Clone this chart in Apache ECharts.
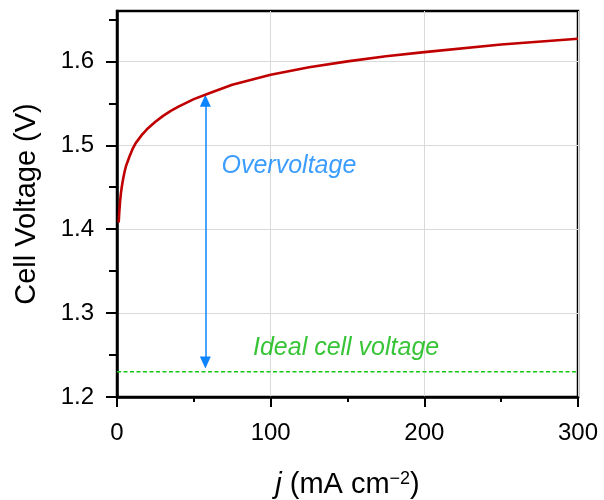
<!DOCTYPE html>
<html>
<head>
<meta charset="utf-8">
<script src="https://cdn.jsdelivr.net/npm/echarts@6/dist/echarts.min.js"></script>
<style>html,body{margin:0;padding:0;background:#fff}#c{width:604px;height:500px}</style>
</head>
<body>
<div id="c"></div>
<script>
// Polarization curve
const jValues = [1.1, 1.5, 2, 2.5, 3, 4, 5, 6, 7, 8, 10, 12, 14, 16, 18, 20, 25, 30, 35, 40, 50, 60, 75, 100, 125, 150, 175, 200, 250, 300];
const vValues = [1.408, 1.421, 1.433, 1.442, 1.449, 1.460, 1.469, 1.476, 1.481, 1.486, 1.495, 1.502, 1.507, 1.512, 1.516, 1.520, 1.528, 1.535, 1.541, 1.546, 1.555, 1.562, 1.572, 1.584, 1.593, 1.600, 1.606, 1.611, 1.620, 1.627];
// Ideal cell voltage line
const idealJ = [0, 300];
const idealV = [1.23, 1.23];
// Overvoltage arrow (j, from V, to V)
const arrowJ = 57.5;
const arrowV = [1.241, 1.553];
// Annotations
const annotationText = ['Overvoltage', 'Ideal cell voltage'];
const annotationPos = [[68, 1.475], [88.5, 1.258]];
// Ticks
const yMajorTicks = [1.2, 1.3, 1.4, 1.5, 1.6];
const yMinorTicks = [1.25, 1.35, 1.45, 1.55, 1.65];

const FONT = 'Liberation Sans, Arial, sans-serif';
const BLUE = '#0a84ff';
const GREEN = '#05b505';

const chart = echarts.init(document.getElementById('c'), null, {renderer: 'canvas'});
chart.setOption({
  animation: false,
  backgroundColor: '#fff',
  grid: {left: 117, right: 26, top: 11, bottom: 103, show: true, borderColor: '#000', borderWidth: 2.5,
    containLabel: false, outerBoundsMode: 'none'},
  xAxis: {
    type: 'value', min: 0, max: 300, interval: 100,
    name: '{i|j} (mA cm{s|−2})', nameLocation: 'middle', nameGap: 73,
    nameTextStyle: {fontFamily: FONT, fontSize: 29, color: '#000',
      rich: {i: {fontFamily: FONT, fontSize: 29, fontStyle: 'italic', color: '#000'},
             s: {fontFamily: FONT, fontSize: 18, color: '#000', verticalAlign: 'top', padding: [0, 0, 10, 0]}}},
    axisLine: {show: true, lineStyle: {color: '#000', width: 2.5}},
    axisTick: {show: true, length: 10, lineStyle: {color: '#000', width: 2}},
    minorTick: {show: true, splitNumber: 2, length: 5, lineStyle: {color: '#000', width: 2}},
    axisLabel: {fontFamily: FONT, fontSize: 24, color: '#000', margin: 24},
    splitLine: {show: true, lineStyle: {color: '#d9d9d9', width: 1}}
  },
  yAxis: [{
    type: 'value', min: 1.2, max: 1.66, interval: 0.1,
    name: 'Cell Voltage (V)', nameLocation: 'middle', nameGap: 76, nameRotate: 90,
    nameTextStyle: {fontFamily: FONT, fontSize: 29, color: '#000'},
    axisLine: {show: true, lineStyle: {color: '#000', width: 2.5}},
    axisTick: {show: true, length: 11, customValues: yMajorTicks, lineStyle: {color: '#000', width: 2}},
    axisLabel: {fontFamily: FONT, fontSize: 24, color: '#000', margin: 23, customValues: yMajorTicks,
      formatter: v => v.toFixed(1)},
    splitLine: {show: true, lineStyle: {color: '#d9d9d9', width: 1}}
  }, {
    type: 'value', min: 1.2, max: 1.66, position: 'left', offset: 0,
    axisLine: {show: false},
    axisTick: {show: true, length: 8, customValues: yMinorTicks, lineStyle: {color: '#000', width: 2}},
    axisLabel: {show: false},
    splitLine: {show: false}
  }],
  series: [
    {
      type: 'line', name: 'ideal', data: idealJ.map((j, i) => [j, idealV[i]]),
      showSymbol: false, symbol: 'none', silent: true,
      lineStyle: {color: '#12c812', width: 1.5, type: [4, 2.5]}, z: 3
    },
    {
      type: 'line', name: 'curve', data: jValues.map((j, i) => [j, vValues[i]]),
      smooth: false, showSymbol: false, symbol: 'none', silent: true,
      lineStyle: {color: '#c00000', width: 2.6, join: 'round'}, z: 5,
      markLine: {
        silent: true, symbol: ['triangle', 'triangle'], symbolSize: [11, 12],
        label: {show: false},
        lineStyle: {color: BLUE, width: 1.5, type: 'solid'},
        data: [[{coord: [arrowJ, arrowV[0]]}, {coord: [arrowJ, arrowV[1]]}]]
      }
    },
    {
      type: 'scatter', name: 'labels', symbolSize: 0, silent: true, z: 6,
      data: annotationPos.map((p, i) => ({
        value: p,
        label: {show: true, position: 'right', distance: 0, formatter: annotationText[i],
          fontFamily: FONT, fontSize: 25, fontStyle: 'italic', color: i === 0 ? BLUE : GREEN}
      }))
    }
  ]
});
</script>
</body>
</html>
